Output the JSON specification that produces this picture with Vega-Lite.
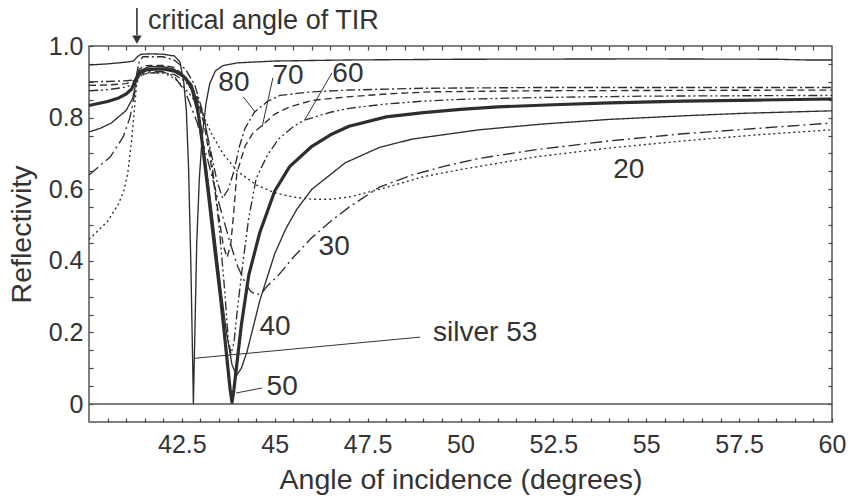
{
  "$schema": "https://vega.github.io/schema/vega-lite/v6.json",
  "width": 743,
  "height": 376,
  "autosize": {"type": "none"},
  "padding": {"left": 89, "top": 46, "right": 17, "bottom": 75},
  "background": "white",
  "config": {
    "view": {"stroke": "#555555", "strokeWidth": 1.5},
    "font": "Liberation Sans",
    "axis": {
      "grid": false,
      "labelFont": "Liberation Sans",
      "labelFontSize": 25,
      "labelColor": "#333333",
      "titleFont": "Liberation Sans",
      "titleFontSize": 28.5,
      "titleFontWeight": "normal",
      "titleColor": "#333333"
    }
  },
  "datasets": {
    "curves": [
      {"film": "silver 53", "x": 40, "r": 0.947}, {"film": "silver 53", "x": 40.5, "r": 0.95}, {"film": "silver 53", "x": 41, "r": 0.955}, {"film": "silver 53", "x": 41.2, "r": 0.958}, {"film": "silver 53", "x": 41.3, "r": 0.97}, {"film": "silver 53", "x": 41.4, "r": 0.977}, {"film": "silver 53", "x": 41.7, "r": 0.978}, {"film": "silver 53", "x": 42, "r": 0.977}, {"film": "silver 53", "x": 42.3, "r": 0.972}, {"film": "silver 53", "x": 42.45, "r": 0.955}, {"film": "silver 53", "x": 42.55, "r": 0.9}, {"film": "silver 53", "x": 42.62, "r": 0.82}, {"film": "silver 53", "x": 42.68, "r": 0.66}, {"film": "silver 53", "x": 42.74, "r": 0.4}, {"film": "silver 53", "x": 42.79, "r": 0.12}, {"film": "silver 53", "x": 42.81, "r": 0.0}, {"film": "silver 53", "x": 42.84, "r": 0.15}, {"film": "silver 53", "x": 42.9, "r": 0.45}, {"film": "silver 53", "x": 42.97, "r": 0.63}, {"film": "silver 53", "x": 43.05, "r": 0.75}, {"film": "silver 53", "x": 43.15, "r": 0.84}, {"film": "silver 53", "x": 43.25, "r": 0.895}, {"film": "silver 53", "x": 43.4, "r": 0.93}, {"film": "silver 53", "x": 43.6, "r": 0.945}, {"film": "silver 53", "x": 44, "r": 0.953}, {"film": "silver 53", "x": 45, "r": 0.958}, {"film": "silver 53", "x": 47, "r": 0.961}, {"film": "silver 53", "x": 50, "r": 0.963}, {"film": "silver 53", "x": 55, "r": 0.964}, {"film": "silver 53", "x": 58.5, "r": 0.963}, {"film": "silver 53", "x": 59.3, "r": 0.961}, {"film": "silver 53", "x": 60, "r": 0.961},

      {"film": "20", "x": 40, "r": 0.46}, {"film": "20", "x": 40.2, "r": 0.48}, {"film": "20", "x": 40.5, "r": 0.51}, {"film": "20", "x": 40.8, "r": 0.56}, {"film": "20", "x": 40.95, "r": 0.6}, {"film": "20", "x": 41.05, "r": 0.65}, {"film": "20", "x": 41.15, "r": 0.74}, {"film": "20", "x": 41.22, "r": 0.82}, {"film": "20", "x": 41.28, "r": 0.89}, {"film": "20", "x": 41.35, "r": 0.915}, {"film": "20", "x": 41.6, "r": 0.925}, {"film": "20", "x": 42, "r": 0.925}, {"film": "20", "x": 42.3, "r": 0.91}, {"film": "20", "x": 42.6, "r": 0.88}, {"film": "20", "x": 42.9, "r": 0.84}, {"film": "20", "x": 43.1, "r": 0.8}, {"film": "20", "x": 43.3, "r": 0.755}, {"film": "20", "x": 43.6, "r": 0.7}, {"film": "20", "x": 44, "r": 0.65}, {"film": "20", "x": 44.5, "r": 0.612}, {"film": "20", "x": 45, "r": 0.59}, {"film": "20", "x": 45.5, "r": 0.578}, {"film": "20", "x": 46, "r": 0.572}, {"film": "20", "x": 46.5, "r": 0.572}, {"film": "20", "x": 47, "r": 0.578}, {"film": "20", "x": 48, "r": 0.605}, {"film": "20", "x": 49, "r": 0.635}, {"film": "20", "x": 50, "r": 0.655}, {"film": "20", "x": 52, "r": 0.69}, {"film": "20", "x": 54, "r": 0.715}, {"film": "20", "x": 56, "r": 0.735}, {"film": "20", "x": 58, "r": 0.752}, {"film": "20", "x": 60, "r": 0.766},

      {"film": "30", "x": 40, "r": 0.64}, {"film": "30", "x": 40.57, "r": 0.69}, {"film": "30", "x": 40.92, "r": 0.746}, {"film": "30", "x": 41.1, "r": 0.8}, {"film": "30", "x": 41.2, "r": 0.85}, {"film": "30", "x": 41.27, "r": 0.895}, {"film": "30", "x": 41.35, "r": 0.92}, {"film": "30", "x": 41.6, "r": 0.928}, {"film": "30", "x": 42, "r": 0.928}, {"film": "30", "x": 42.3, "r": 0.915}, {"film": "30", "x": 42.6, "r": 0.87}, {"film": "30", "x": 42.9, "r": 0.79}, {"film": "30", "x": 43.2, "r": 0.68}, {"film": "30", "x": 43.5, "r": 0.56}, {"film": "30", "x": 43.8, "r": 0.45}, {"film": "30", "x": 44, "r": 0.385}, {"film": "30", "x": 44.2, "r": 0.34}, {"film": "30", "x": 44.35, "r": 0.315}, {"film": "30", "x": 44.5, "r": 0.305}, {"film": "30", "x": 44.65, "r": 0.31}, {"film": "30", "x": 44.8, "r": 0.33}, {"film": "30", "x": 45.1, "r": 0.36}, {"film": "30", "x": 45.5, "r": 0.41}, {"film": "30", "x": 46, "r": 0.465}, {"film": "30", "x": 46.5, "r": 0.51}, {"film": "30", "x": 47, "r": 0.55}, {"film": "30", "x": 47.8, "r": 0.605}, {"film": "30", "x": 48.7, "r": 0.64}, {"film": "30", "x": 49.6, "r": 0.665}, {"film": "30", "x": 50.5, "r": 0.686}, {"film": "30", "x": 52, "r": 0.71}, {"film": "30", "x": 54, "r": 0.735}, {"film": "30", "x": 56, "r": 0.755}, {"film": "30", "x": 58, "r": 0.77}, {"film": "30", "x": 60, "r": 0.785},

      {"film": "40", "x": 40, "r": 0.76}, {"film": "40", "x": 40.3, "r": 0.77}, {"film": "40", "x": 40.6, "r": 0.785}, {"film": "40", "x": 41, "r": 0.82}, {"film": "40", "x": 41.18, "r": 0.855}, {"film": "40", "x": 41.27, "r": 0.9}, {"film": "40", "x": 41.35, "r": 0.93}, {"film": "40", "x": 41.6, "r": 0.942}, {"film": "40", "x": 42, "r": 0.943}, {"film": "40", "x": 42.3, "r": 0.935}, {"film": "40", "x": 42.55, "r": 0.915}, {"film": "40", "x": 42.75, "r": 0.88}, {"film": "40", "x": 42.95, "r": 0.8}, {"film": "40", "x": 43.15, "r": 0.67}, {"film": "40", "x": 43.35, "r": 0.5}, {"film": "40", "x": 43.55, "r": 0.32}, {"film": "40", "x": 43.7, "r": 0.2}, {"film": "40", "x": 43.85, "r": 0.11}, {"film": "40", "x": 43.97, "r": 0.08}, {"film": "40", "x": 44.1, "r": 0.1}, {"film": "40", "x": 44.25, "r": 0.145}, {"film": "40", "x": 44.6, "r": 0.29}, {"film": "40", "x": 45, "r": 0.42}, {"film": "40", "x": 45.3, "r": 0.49}, {"film": "40", "x": 45.6, "r": 0.545}, {"film": "40", "x": 46, "r": 0.6}, {"film": "40", "x": 46.9, "r": 0.674}, {"film": "40", "x": 47.8, "r": 0.716}, {"film": "40", "x": 48.7, "r": 0.74}, {"film": "40", "x": 50.5, "r": 0.766}, {"film": "40", "x": 52.2, "r": 0.782}, {"film": "40", "x": 54, "r": 0.795}, {"film": "40", "x": 56, "r": 0.805}, {"film": "40", "x": 57.6, "r": 0.812}, {"film": "40", "x": 60, "r": 0.819},

      {"film": "60", "x": 40, "r": 0.875}, {"film": "60", "x": 40.5, "r": 0.878}, {"film": "60", "x": 41, "r": 0.885}, {"film": "60", "x": 41.2, "r": 0.895}, {"film": "60", "x": 41.27, "r": 0.905}, {"film": "60", "x": 41.35, "r": 0.915}, {"film": "60", "x": 41.6, "r": 0.925}, {"film": "60", "x": 42, "r": 0.925}, {"film": "60", "x": 42.3, "r": 0.92}, {"film": "60", "x": 42.6, "r": 0.9}, {"film": "60", "x": 42.9, "r": 0.86}, {"film": "60", "x": 43.1, "r": 0.8}, {"film": "60", "x": 43.3, "r": 0.68}, {"film": "60", "x": 43.5, "r": 0.5}, {"film": "60", "x": 43.65, "r": 0.32}, {"film": "60", "x": 43.75, "r": 0.18}, {"film": "60", "x": 43.82, "r": 0.14}, {"film": "60", "x": 43.9, "r": 0.17}, {"film": "60", "x": 44, "r": 0.27}, {"film": "60", "x": 44.15, "r": 0.4}, {"film": "60", "x": 44.3, "r": 0.52}, {"film": "60", "x": 44.5, "r": 0.63}, {"film": "60", "x": 44.8, "r": 0.695}, {"film": "60", "x": 45.1, "r": 0.74}, {"film": "60", "x": 45.5, "r": 0.775}, {"film": "60", "x": 45.8, "r": 0.793}, {"film": "60", "x": 46.5, "r": 0.815}, {"film": "60", "x": 47, "r": 0.826}, {"film": "60", "x": 48, "r": 0.838}, {"film": "60", "x": 49, "r": 0.846}, {"film": "60", "x": 50, "r": 0.851}, {"film": "60", "x": 52, "r": 0.856}, {"film": "60", "x": 55, "r": 0.86}, {"film": "60", "x": 60, "r": 0.862},

      {"film": "70", "x": 40, "r": 0.89}, {"film": "70", "x": 40.5, "r": 0.891}, {"film": "70", "x": 41, "r": 0.895}, {"film": "70", "x": 41.25, "r": 0.905}, {"film": "70", "x": 41.35, "r": 0.935}, {"film": "70", "x": 41.5, "r": 0.945}, {"film": "70", "x": 42, "r": 0.946}, {"film": "70", "x": 42.3, "r": 0.94}, {"film": "70", "x": 42.6, "r": 0.915}, {"film": "70", "x": 42.9, "r": 0.86}, {"film": "70", "x": 43.1, "r": 0.78}, {"film": "70", "x": 43.3, "r": 0.66}, {"film": "70", "x": 43.5, "r": 0.52}, {"film": "70", "x": 43.62, "r": 0.44}, {"film": "70", "x": 43.72, "r": 0.41}, {"film": "70", "x": 43.82, "r": 0.45}, {"film": "70", "x": 43.9, "r": 0.54}, {"film": "70", "x": 43.98, "r": 0.645}, {"film": "70", "x": 44.2, "r": 0.72}, {"film": "70", "x": 44.4, "r": 0.755}, {"film": "70", "x": 44.66, "r": 0.778}, {"film": "70", "x": 45, "r": 0.81}, {"film": "70", "x": 45.4, "r": 0.83}, {"film": "70", "x": 46, "r": 0.848}, {"film": "70", "x": 46.95, "r": 0.858}, {"film": "70", "x": 48, "r": 0.866}, {"film": "70", "x": 49.2, "r": 0.872}, {"film": "70", "x": 52, "r": 0.875}, {"film": "70", "x": 56, "r": 0.876}, {"film": "70", "x": 60, "r": 0.877},

      {"film": "80", "x": 40, "r": 0.9}, {"film": "80", "x": 40.5, "r": 0.901}, {"film": "80", "x": 41, "r": 0.903}, {"film": "80", "x": 41.25, "r": 0.906}, {"film": "80", "x": 41.35, "r": 0.955}, {"film": "80", "x": 41.45, "r": 0.97}, {"film": "80", "x": 42, "r": 0.97}, {"film": "80", "x": 42.3, "r": 0.96}, {"film": "80", "x": 42.6, "r": 0.935}, {"film": "80", "x": 42.85, "r": 0.89}, {"film": "80", "x": 43.05, "r": 0.82}, {"film": "80", "x": 43.25, "r": 0.72}, {"film": "80", "x": 43.45, "r": 0.62}, {"film": "80", "x": 43.6, "r": 0.575}, {"film": "80", "x": 43.75, "r": 0.6}, {"film": "80", "x": 43.9, "r": 0.65}, {"film": "80", "x": 44.05, "r": 0.72}, {"film": "80", "x": 44.2, "r": 0.77}, {"film": "80", "x": 44.45, "r": 0.815}, {"film": "80", "x": 44.8, "r": 0.845}, {"film": "80", "x": 45.14, "r": 0.862}, {"film": "80", "x": 46, "r": 0.872}, {"film": "80", "x": 47, "r": 0.877}, {"film": "80", "x": 49, "r": 0.882}, {"film": "80", "x": 52, "r": 0.884}, {"film": "80", "x": 56, "r": 0.884}, {"film": "80", "x": 60, "r": 0.884},

      {"film": "50", "x": 40, "r": 0.834}, {"film": "50", "x": 40.5, "r": 0.845}, {"film": "50", "x": 40.8, "r": 0.855}, {"film": "50", "x": 41, "r": 0.866}, {"film": "50", "x": 41.15, "r": 0.88}, {"film": "50", "x": 41.25, "r": 0.905}, {"film": "50", "x": 41.35, "r": 0.925}, {"film": "50", "x": 41.6, "r": 0.935}, {"film": "50", "x": 42, "r": 0.936}, {"film": "50", "x": 42.3, "r": 0.93}, {"film": "50", "x": 42.55, "r": 0.915}, {"film": "50", "x": 42.75, "r": 0.89}, {"film": "50", "x": 42.9, "r": 0.84}, {"film": "50", "x": 43, "r": 0.77}, {"film": "50", "x": 43.2, "r": 0.6}, {"film": "50", "x": 43.4, "r": 0.42}, {"film": "50", "x": 43.55, "r": 0.29}, {"film": "50", "x": 43.7, "r": 0.14}, {"film": "50", "x": 43.8, "r": 0.04}, {"film": "50", "x": 43.85, "r": 0.005}, {"film": "50", "x": 43.9, "r": 0.04}, {"film": "50", "x": 44, "r": 0.13}, {"film": "50", "x": 44.1, "r": 0.22}, {"film": "50", "x": 44.3, "r": 0.36}, {"film": "50", "x": 44.6, "r": 0.48}, {"film": "50", "x": 45, "r": 0.595}, {"film": "50", "x": 45.4, "r": 0.663}, {"film": "50", "x": 46, "r": 0.72}, {"film": "50", "x": 46.5, "r": 0.752}, {"film": "50", "x": 47, "r": 0.776}, {"film": "50", "x": 48, "r": 0.802}, {"film": "50", "x": 49, "r": 0.814}, {"film": "50", "x": 50, "r": 0.823}, {"film": "50", "x": 51, "r": 0.83}, {"film": "50", "x": 52.5, "r": 0.836}, {"film": "50", "x": 54, "r": 0.841}, {"film": "50", "x": 56, "r": 0.846}, {"film": "50", "x": 58, "r": 0.849}, {"film": "50", "x": 60, "r": 0.852}
    ],
    "leaders": [
      {"x": 43.96, "y": 0.031, "x2": 44.66, "y2": 0.045},
      {"x": 44.15, "y": 0.858, "x2": 44.47, "y2": 0.816},
      {"x": 44.95, "y": 0.911, "x2": 44.66, "y2": 0.774},
      {"x": 46.54, "y": 0.925, "x2": 45.81, "y2": 0.794},
      {"x": 42.85, "y": 0.128, "x2": 48.91, "y2": 0.187}
    ],
    "labels": [
      {"x": 45.2, "y": 0.047, "text": "50"},
      {"x": 45.01, "y": 0.214, "text": "40"},
      {"x": 46.6, "y": 0.44, "text": "30"},
      {"x": 54.53, "y": 0.655, "text": "20"},
      {"x": 43.9, "y": 0.897, "text": "80"},
      {"x": 45.36, "y": 0.916, "text": "70"},
      {"x": 46.97, "y": 0.922, "text": "60"}
    ]
  },
  "resolve": {"axis": {"x": "independent", "y": "independent"}},
  "layer": [
    {
      "data": {"name": "curves"},
      "transform": [{"filter": "datum.film != '50'"}],
      "mark": {"type": "line", "color": "#2e2e2e", "strokeWidth": 1.35, "strokeJoin": "round"},
      "encoding": {
        "x": {
          "field": "x", "type": "quantitative",
          "scale": {"domain": [40, 60], "nice": false, "zero": false},
          "axis": {
            "orient": "bottom",
            "domain": false,
            "ticks": true,
            "tickSize": -4,
            "tickWidth": 1.2,
            "tickColor": "#444444",
            "title": "Angle of incidence (degrees)",
            "values": [40.5, 41, 41.5, 42, 42.5, 43, 43.5, 44, 44.5, 45, 45.5, 46, 46.5, 47, 47.5, 48, 48.5, 49, 49.5, 50, 50.5, 51, 51.5, 52, 52.5, 53, 53.5, 54, 54.5, 55, 55.5, 56, 56.5, 57, 57.5, 58, 58.5, 59, 59.5, 60],
            "labelExpr": "(datum.value * 2) % 5 == 0 ? datum.value + '' : ''",
            "labelPadding": 14,
            "labelFlush": false,
            "labelOverlap": false,
            "titlePadding": 8
          }
        },
        "y": {
          "field": "r", "type": "quantitative",
          "scale": {"domain": [-0.05, 1], "nice": false, "zero": false},
          "axis": {
            "orient": "left",
            "domain": false,
            "ticks": true,
            "tickSize": -4,
            "tickWidth": 1.2,
            "tickColor": "#444444",
            "title": "Reflectivity",
            "values": [0, 0.05, 0.1, 0.15, 0.2, 0.25, 0.3, 0.35, 0.4, 0.45, 0.5, 0.55, 0.6, 0.65, 0.7, 0.75, 0.8, 0.85, 0.9, 0.95, 1],
            "labelExpr": "abs(datum.value * 5 - round(datum.value * 5)) < 1e-6 ? (datum.value == 0 ? '0' : format(datum.value, '.1f')) : ''",
            "labelPadding": 10,
            "labelFlush": false,
            "labelOverlap": false,
            "titlePadding": 12
          }
        },
        "detail": {"field": "film"},
        "strokeDash": {
          "field": "film", "type": "nominal", "legend": null,
          "scale": {
            "domain": ["silver 53", "20", "30", "40", "60", "70", "80"],
            "range": [[1, 0], [2, 3], [12, 4, 2, 4], [1, 0], [9, 3, 2, 3, 2, 3], [7, 4], [9, 3, 2, 3]]
          }
        }
      }
    },
    {
      "data": {"name": "leaders"},
      "mark": {"type": "rule", "color": "#333333", "strokeWidth": 1},
      "encoding": {
        "x": {"field": "x", "type": "quantitative", "axis": {"orient": "top", "domain": false, "ticks": true, "tickSize": -4, "tickWidth": 1.2, "tickColor": "#444444", "title": null, "labels": false, "values": [40.5, 41, 41.5, 42, 42.5, 43, 43.5, 44, 44.5, 45, 45.5, 46, 46.5, 47, 47.5, 48, 48.5, 49, 49.5, 50, 50.5, 51, 51.5, 52, 52.5, 53, 53.5, 54, 54.5, 55, 55.5, 56, 56.5, 57, 57.5, 58, 58.5, 59, 59.5]}},
        "y": {"field": "y", "type": "quantitative", "axis": {"orient": "right", "domain": false, "ticks": true, "tickSize": -4, "tickWidth": 1.2, "tickColor": "#444444", "title": null, "labels": false, "values": [0, 0.05, 0.1, 0.15, 0.2, 0.25, 0.3, 0.35, 0.4, 0.45, 0.5, 0.55, 0.6, 0.65, 0.7, 0.75, 0.8, 0.85, 0.9, 0.95]}},
        "x2": {"field": "x2"},
        "y2": {"field": "y2"}
      }
    },
    {
      "data": {"values": [{"y": 0}]},
      "mark": {"type": "rule", "color": "#555555", "strokeWidth": 1.5},
      "encoding": {
        "y": {"field": "y", "type": "quantitative", "axis": null}
      }
    },
    {
      "data": {"name": "curves"},
      "transform": [{"filter": "datum.film == '50'"}],
      "mark": {"type": "line", "color": "#2e2e2e", "strokeWidth": 3.2, "strokeJoin": "round"},
      "encoding": {
        "x": {"field": "x", "type": "quantitative", "axis": null},
        "y": {"field": "r", "type": "quantitative", "axis": null}
      }
    },
    {
      "data": {"name": "labels"},
      "mark": {"type": "text", "font": "Liberation Sans", "fontSize": 28, "color": "#333333", "align": "center", "baseline": "middle"},
      "encoding": {
        "x": {"field": "x", "type": "quantitative", "axis": null},
        "y": {"field": "y", "type": "quantitative", "axis": null},
        "text": {"field": "text"}
      }
    },
    {
      "data": {"values": [{"x": 49.26, "y": 0.198, "text": "silver 53"}]},
      "mark": {"type": "text", "font": "Liberation Sans", "fontSize": 28, "color": "#333333", "align": "left", "baseline": "middle"},
      "encoding": {
        "x": {"field": "x", "type": "quantitative", "axis": null},
        "y": {"field": "y", "type": "quantitative", "axis": null},
        "text": {"field": "text"}
      }
    },
    {
      "data": {"values": [{"x": 41.29, "y": 1.106, "y2": 1.03}]},
      "mark": {"type": "rule", "color": "#333333", "strokeWidth": 1.6},
      "encoding": {
        "x": {"field": "x", "type": "quantitative", "axis": null},
        "y": {"field": "y", "type": "quantitative", "axis": null},
        "y2": {"field": "y2"}
      }
    },
    {
      "data": {"values": [{"x": 41.29, "y": 1.018}]},
      "mark": {"type": "point", "shape": "triangle-down", "filled": true, "size": 90, "color": "#333333", "opacity": 1},
      "encoding": {
        "x": {"field": "x", "type": "quantitative", "axis": null},
        "y": {"field": "y", "type": "quantitative", "axis": null}
      }
    },
    {
      "data": {"values": [{"x": 41.59, "y": 1.047, "text": "critical angle of TIR"}]},
      "mark": {"type": "text", "font": "Liberation Sans", "fontSize": 27, "color": "#333333", "align": "left", "baseline": "alphabetic"},
      "encoding": {
        "x": {"field": "x", "type": "quantitative", "axis": null},
        "y": {"field": "y", "type": "quantitative", "axis": null},
        "text": {"field": "text"}
      }
    }
  ]
}
